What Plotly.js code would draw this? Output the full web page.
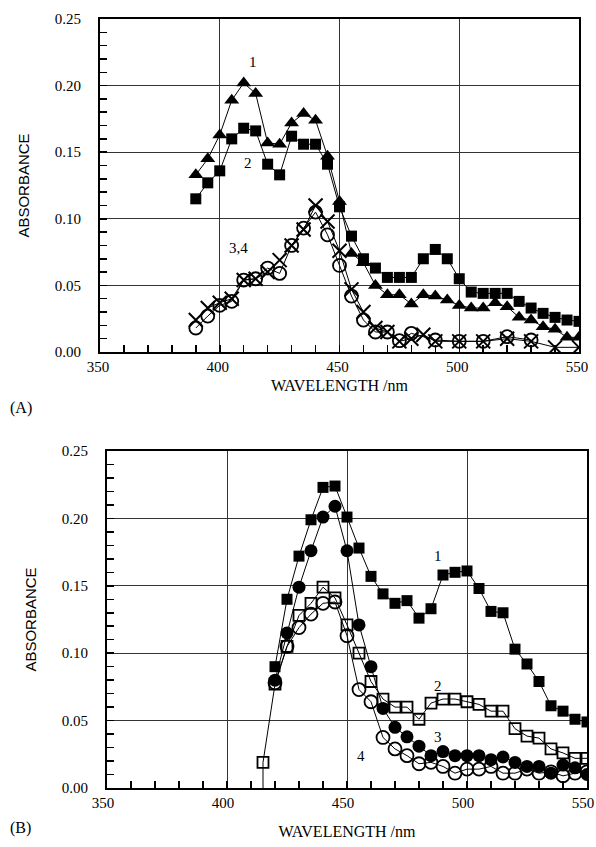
<!DOCTYPE html>
<html>
<head>
<meta charset="utf-8">
<script src="https://cdn.plot.ly/plotly-3.0.1.min.js"></script>
<style>html,body{margin:0;padding:0;background:#fff;}#chart{width:596px;height:847px;}</style>
</head>
<body>
<div id="chart"></div>
<script>
// ---------- Panel A data ----------
const wlA12 = [390,395,400,405,410,415,420,425,430,435,440,445,450,455,460,465,470,475,480,485,490,495,500,505,510,515,520,525,530,535,540,545,550];
const absA1 = [0.133,0.145,0.163,0.189,0.202,0.194,0.157,0.156,0.172,0.179,0.174,0.147,0.113,0.074,0.067,0.050,0.043,0.043,0.036,0.043,0.042,0.039,0.035,0.033,0.033,0.037,0.034,0.026,0.024,0.019,0.017,0.011,0.011];
const absA2 = [0.115,0.127,0.136,0.160,0.168,0.166,0.141,0.133,0.162,0.156,0.156,0.141,0.109,0.087,0.070,0.063,0.056,0.056,0.056,0.070,0.077,0.070,0.055,0.045,0.044,0.044,0.044,0.038,0.033,0.029,0.026,0.024,0.023];
const wlA3 = [390,395,400,405,410,415,420,425,430,435,440,445,450,455,460,465,470,475,480,490,500,510,520,530];
const absA3 = [0.018,0.027,0.035,0.038,0.054,0.055,0.063,0.059,0.080,0.093,0.105,0.088,0.065,0.042,0.024,0.015,0.015,0.0085,0.014,0.009,0.008,0.008,0.0115,0.009];
const wlA4 = [390,395,400,405,410,415,420,425,430,435,440,445,450,455,460,465,470,475,480,485,490,500,510,520,530,540,550];
const absA4 = [0.024,0.033,0.037,0.040,0.054,0.055,0.060,0.069,0.080,0.092,0.110,0.098,0.076,0.047,0.030,0.018,0.015,0.008,0.010,0.013,0.008,0.008,0.008,0.010,0.008,0.0035,0.0035];

// ---------- Panel B data ----------
const wlB = [420,425,430,435,440,445,450,455,460,465,470,475,480,485,490,495,500,505,510,515,520,525,530,535,540,545,550];
const absB1 = [0.090,0.140,0.172,0.199,0.223,0.224,0.201,0.178,0.157,0.144,0.137,0.139,0.126,0.133,0.158,0.160,0.161,0.148,0.131,0.130,0.103,0.092,0.079,0.061,0.057,0.051,0.049];
const wlB2 = [415,415].concat(wlB);
const absB2 = [-0.05,0.019,0.077,0.105,0.128,0.137,0.149,0.141,0.121,0.100,0.079,0.066,0.060,0.060,0.051,0.063,0.066,0.066,0.064,0.062,0.057,0.057,0.044,0.0385,0.037,0.029,0.026,0.022,0.022];
const absB3 = [0.080,0.115,0.149,0.176,0.201,0.209,0.176,0.121,0.090,0.059,0.045,0.038,0.031,0.024,0.027,0.024,0.024,0.024,0.021,0.023,0.019,0.016,0.016,0.011,0.017,0.015,0.010];
const absB4 = [0.078,0.105,0.119,0.129,0.137,0.138,0.113,0.073,0.064,0.0375,0.029,0.024,0.018,0.019,0.016,0.011,0.014,0.014,0.016,0.011,0.011,0.014,0.011,0.012,0.009,0.011,0.012];

const xTicks = [350,400,450,500,550];
const yTicks = [0,0.05,0.10,0.15,0.20,0.25];
const yTickText = ['0.00','0.05','0.10','0.15','0.20','0.25'];

const lineS = {color:'#000', width:1};
function tr(x,y,sym,size,xa,ya,lw){
  return {x:x, y:y, xaxis:xa, yaxis:ya, type:'scatter', mode:'lines+markers',
    line:lineS, showlegend:false, hoverinfo:'skip',
    marker:{symbol:sym, size:size, color:'#000', line:{color:'#000', width:lw||0}}};
}

const data = [
  tr(wlA12,absA1,'triangle-up',13,'x','y'),
  tr(wlA12,absA2,'square',11,'x','y'),
  tr(wlA3,absA3,'circle-open',13,'x','y',1.8),
  tr(wlA4,absA4,'x-thin-open',14,'x','y',2),
  tr(wlB,absB1,'square',11,'x2','y2'),
  tr(wlB2,absB2,'square-open',11,'x2','y2',1.8),
  tr(wlB,absB3,'circle',13,'x2','y2'),
  tr(wlB,absB4,'circle-open',13,'x2','y2',1.8)
];

const serif = 'Liberation Serif, Times New Roman, serif';
const sans = 'Liberation Sans, Arial, sans-serif';

function xax(dom, anchor, shift, standoff){
  return {domain:dom, anchor:anchor, range:[350,550], tickvals:xTicks, ticktext:xTicks.map(String),
    showgrid:true, gridcolor:'#333', gridwidth:1, zeroline:false,
    showline:true, linecolor:'#000', linewidth:2, mirror:true,
    ticks:'inside', ticklen:7, tickcolor:'#000', tickwidth:1.5,
    minor:{dtick:10, ticks:'inside', ticklen:7, tickcolor:'#000', tickwidth:1.5, showgrid:false},
    tickfont:{family:serif, size:15, color:'#000'}, ticklabelshift:shift, ticklabeloverflow:'allow',
    title:{text:'WAVELENGTH /nm', font:{family:serif, size:16, color:'#000'}, standoff:standoff}};
}
function yax(dom, anchor){
  return {domain:dom, anchor:anchor, range:[0,0.25], tickvals:yTicks, ticktext:yTickText,
    showgrid:true, gridcolor:'#333', gridwidth:1, zeroline:false,
    showline:true, linecolor:'#000', linewidth:2, mirror:true,
    ticks:'inside', ticklen:7, tickcolor:'#000', tickwidth:1.5,
    minor:{dtick:0.01, ticks:'inside', ticklen:7, tickcolor:'#000', tickwidth:1.5, showgrid:false},
    tickfont:{family:serif, size:15, color:'#000'}, ticklabelstandoff:14,
    title:{text:'ABSORBANCE', font:{family:sans, size:15, color:'#000'}, standoff:22}};
}

function lab(text,x,y,xr,yr){
  return {text:text, x:x, y:y, xref:xr, yref:yr, showarrow:false,
    font:{family:serif, size:15, color:'#000'}};
}

const layout = {
  width:596, height:847, margin:{l:0,r:0,t:0,b:0},
  paper_bgcolor:'#fff', plot_bgcolor:'#fff',
  xaxis: xax([100/596, 579/596], 'y', -2, 6),
  yaxis: yax([1-352/847, 1-19/847], 'x'),
  xaxis2: xax([107/596, 587/596], 'y2', -4, 16),
  yaxis2: yax([1-788/847, 1-451/847], 'x2'),
  annotations:[
    lab('1',414,0.218,'x','y'),
    lab('2',412,0.142,'x','y'),
    lab('3,4',408,0.078,'x','y'),
    lab('1',488,0.172,'x2','y2'),
    lab('2',488,0.0755,'x2','y2'),
    lab('3',488,0.038,'x2','y2'),
    lab('4',456,0.024,'x2','y2'),
    {text:'(A)', x:8/596, y:1-408/847, xref:'paper', yref:'paper', xanchor:'left', yanchor:'middle', showarrow:false, font:{family:serif,size:16,color:'#000'}},
    {text:'(B)', x:8/596, y:1-828/847, xref:'paper', yref:'paper', xanchor:'left', yanchor:'middle', showarrow:false, font:{family:serif,size:16,color:'#000'}}
  ]
};

Plotly.newPlot('chart', data, layout, {staticPlot:true, displayModeBar:false});
</script>
</body>
</html>
